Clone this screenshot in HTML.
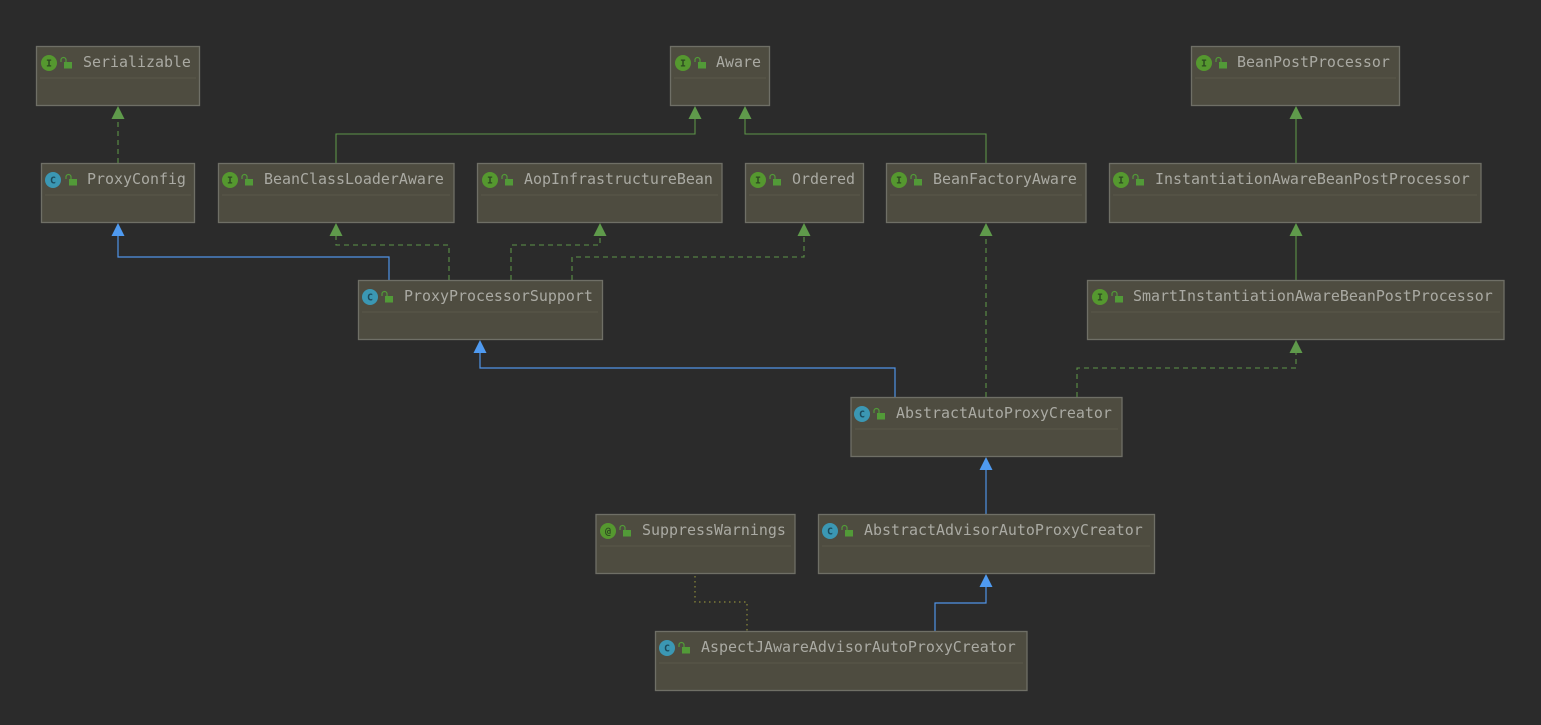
<!DOCTYPE html>
<html><head><meta charset="utf-8"><style>
html,body{margin:0;padding:0;background:#2b2b2b;width:1541px;height:725px;overflow:hidden}
svg{display:block}
text{font-family:"DejaVu Sans Mono","Liberation Mono",monospace;font-size:14.95px;fill:#aaaaa3}
.i{font-size:10px;fill:#2d4a20;text-anchor:middle;font-weight:bold}
.c{font-size:10px;fill:#1b4a5c;text-anchor:middle;font-weight:bold}
.b{fill:#4e4c40;stroke:#6f6f66;stroke-width:1.3}
.s{stroke:#59584a;stroke-width:1}
.g{fill:none;stroke:#5c9448;stroke-width:1.1}
.d{stroke-dasharray:5 4}
.u{fill:none;stroke:#4f93e6;stroke-width:1.2}
.ag{fill:#5f9a4b}.au{fill:#4f9af0}
.ci{fill:#55982f}.cc{fill:#3b97b3}
.l{fill:#529a38}.k{fill:none;stroke:#529a38;stroke-width:1.2}
</style></head><body>
<svg width="1541" height="725" viewBox="0 0 1541 725" xmlns="http://www.w3.org/2000/svg">
<defs>
<g id="lock"><rect x="-2" y="-1" width="8" height="6.500" class="l"/><path d="M-5 -1v-2a2.500 2.500 0 0 1 5 0v2" class="k"/></g>
</defs>

<!-- connectors -->
<path class="g d" d="M118 163V118"/>
<path class="g" d="M336 163V134H695V118"/>
<path class="g" d="M986 163V134H745V118"/>
<path class="g" d="M1296 163V118"/>
<path class="u" d="M389 280V257H118V235"/>
<path class="g d" d="M449 280V245H336V235"/>
<path class="g d" d="M511 280V245H600V235"/>
<path class="g d" d="M572 280V257H804V235"/>
<path class="g d" d="M986 397V235"/>
<path class="g" d="M1296 280V235"/>
<path class="u" d="M895 397V368H480V352"/>
<path class="g d" d="M1077 397V368H1296V352"/>
<path class="u" d="M986 514V469"/>
<path class="u" d="M935 631V603H986V587"/>
<path d="M695 576V602H747V631" fill="none" stroke="#8c8a3a" stroke-width="1.2" stroke-dasharray="1.500 3.500"/>

<!-- arrowheads -->
<path class="ag" d="M118 106l-6.500 13h13z"/>
<path class="ag" d="M695 106l-6.500 13h13z"/>
<path class="ag" d="M745 106l-6.500 13h13z"/>
<path class="ag" d="M1296 106l-6.500 13h13z"/>
<path class="au" d="M118 223l-6.500 13h13z"/>
<path class="ag" d="M336 223l-6.500 13h13z"/>
<path class="ag" d="M600 223l-6.500 13h13z"/>
<path class="ag" d="M804 223l-6.500 13h13z"/>
<path class="ag" d="M986 223l-6.500 13h13z"/>
<path class="ag" d="M1296 223l-6.500 13h13z"/>
<path class="au" d="M480 340l-6.500 13h13z"/>
<path class="ag" d="M1296 340l-6.500 13h13z"/>
<path class="au" d="M986 457l-6.500 13h13z"/>
<path class="au" d="M986 574l-6.500 13h13z"/>

<!-- Serializable -->
<rect class="b" x="36.500" y="46.500" width="163" height="59"/><path class="s" d="M40 78H196"/>
<circle class="ci" cx="49" cy="63" r="8"/><text class="i" x="49" y="66.500">I</text><use href="#lock" x="66" y="63"/>
<text x="83" y="67">Serializable</text>

<!-- Aware -->
<rect class="b" x="670.500" y="46.500" width="99" height="59"/><path class="s" d="M674 78H766"/>
<circle class="ci" cx="683" cy="63" r="8"/><text class="i" x="683" y="66.500">I</text><use href="#lock" x="700" y="63"/>
<text x="716" y="67">Aware</text>

<!-- BeanPostProcessor -->
<rect class="b" x="1191.500" y="46.500" width="208" height="59"/><path class="s" d="M1195 78H1396"/>
<circle class="ci" cx="1204" cy="63" r="8"/><text class="i" x="1204" y="66.500">I</text><use href="#lock" x="1221" y="63"/>
<text x="1237" y="67">BeanPostProcessor</text>

<!-- ProxyConfig -->
<rect class="b" x="41.500" y="163.500" width="153" height="59"/><path class="s" d="M45 195H191"/>
<circle class="cc" cx="53" cy="180" r="8"/><text class="c" x="53" y="183.500">C</text><use href="#lock" x="71" y="180"/>
<text x="87" y="184">ProxyConfig</text>

<!-- BeanClassLoaderAware -->
<rect class="b" x="218.500" y="163.500" width="235.500" height="59"/><path class="s" d="M222 195H450"/>
<circle class="ci" cx="230" cy="180" r="8"/><text class="i" x="230" y="183.500">I</text><use href="#lock" x="247" y="180"/>
<text x="264" y="184">BeanClassLoaderAware</text>

<!-- AopInfrastructureBean -->
<rect class="b" x="477.500" y="163.500" width="244.500" height="59"/><path class="s" d="M481 195H718"/>
<circle class="ci" cx="490" cy="180" r="8"/><text class="i" x="490" y="183.500">I</text><use href="#lock" x="507" y="180"/>
<text x="524" y="184">AopInfrastructureBean</text>

<!-- Ordered -->
<rect class="b" x="745.500" y="163.500" width="118" height="59"/><path class="s" d="M749 195H860"/>
<circle class="ci" cx="758" cy="180" r="8"/><text class="i" x="758" y="183.500">I</text><use href="#lock" x="775" y="180"/>
<text x="792" y="184">Ordered</text>

<!-- BeanFactoryAware -->
<rect class="b" x="886.500" y="163.500" width="199.500" height="59"/><path class="s" d="M890 195H1082"/>
<circle class="ci" cx="899" cy="180" r="8"/><text class="i" x="899" y="183.500">I</text><use href="#lock" x="916" y="180"/>
<text x="933" y="184">BeanFactoryAware</text>

<!-- InstantiationAwareBeanPostProcessor -->
<rect class="b" x="1109.500" y="163.500" width="371.500" height="59"/><path class="s" d="M1113 195H1477"/>
<circle class="ci" cx="1121" cy="180" r="8"/><text class="i" x="1121" y="183.500">I</text><use href="#lock" x="1138" y="180"/>
<text x="1155" y="184">InstantiationAwareBeanPostProcessor</text>

<!-- ProxyProcessorSupport -->
<rect class="b" x="358.500" y="280.500" width="244" height="59"/><path class="s" d="M362 312H598"/>
<circle class="cc" cx="370" cy="297" r="8"/><text class="c" x="370" y="300.500">C</text><use href="#lock" x="387" y="297"/>
<text x="404" y="301">ProxyProcessorSupport</text>

<!-- SmartInstantiationAwareBeanPostProcessor -->
<rect class="b" x="1087.500" y="280.500" width="416.500" height="59"/><path class="s" d="M1091 312H1500"/>
<circle class="ci" cx="1100" cy="297" r="8"/><text class="i" x="1100" y="300.500">I</text><use href="#lock" x="1117" y="297"/>
<text x="1133" y="301">SmartInstantiationAwareBeanPostProcessor</text>

<!-- AbstractAutoProxyCreator -->
<rect class="b" x="851" y="397.500" width="271" height="59"/><path class="s" d="M855 429H1118"/>
<circle class="cc" cx="862" cy="414" r="8"/><text class="c" x="862" y="417.500">C</text><use href="#lock" x="879" y="414"/>
<text x="896" y="418">AbstractAutoProxyCreator</text>

<!-- SuppressWarnings -->
<rect class="b" x="596" y="514.500" width="199" height="59"/><path class="s" d="M600 546H791"/>
<circle class="ci" cx="608" cy="531" r="8"/><text class="i" x="608" y="534.500">@</text><use href="#lock" x="625" y="531"/>
<text x="642" y="535">SuppressWarnings</text>

<!-- AbstractAdvisorAutoProxyCreator -->
<rect class="b" x="818.500" y="514.500" width="336" height="59"/><path class="s" d="M822 546H1150"/>
<circle class="cc" cx="830" cy="531" r="8"/><text class="c" x="830" y="534.500">C</text><use href="#lock" x="847" y="531"/>
<text x="864" y="535">AbstractAdvisorAutoProxyCreator</text>

<!-- AspectJAwareAdvisorAutoProxyCreator -->
<rect class="b" x="655.500" y="631.500" width="371.500" height="59"/><path class="s" d="M659 663H1023"/>
<circle class="cc" cx="667" cy="648" r="8"/><text class="c" x="667" y="651.500">C</text><use href="#lock" x="684" y="648"/>
<text x="701" y="652">AspectJAwareAdvisorAutoProxyCreator</text>
</svg>
</body></html>
